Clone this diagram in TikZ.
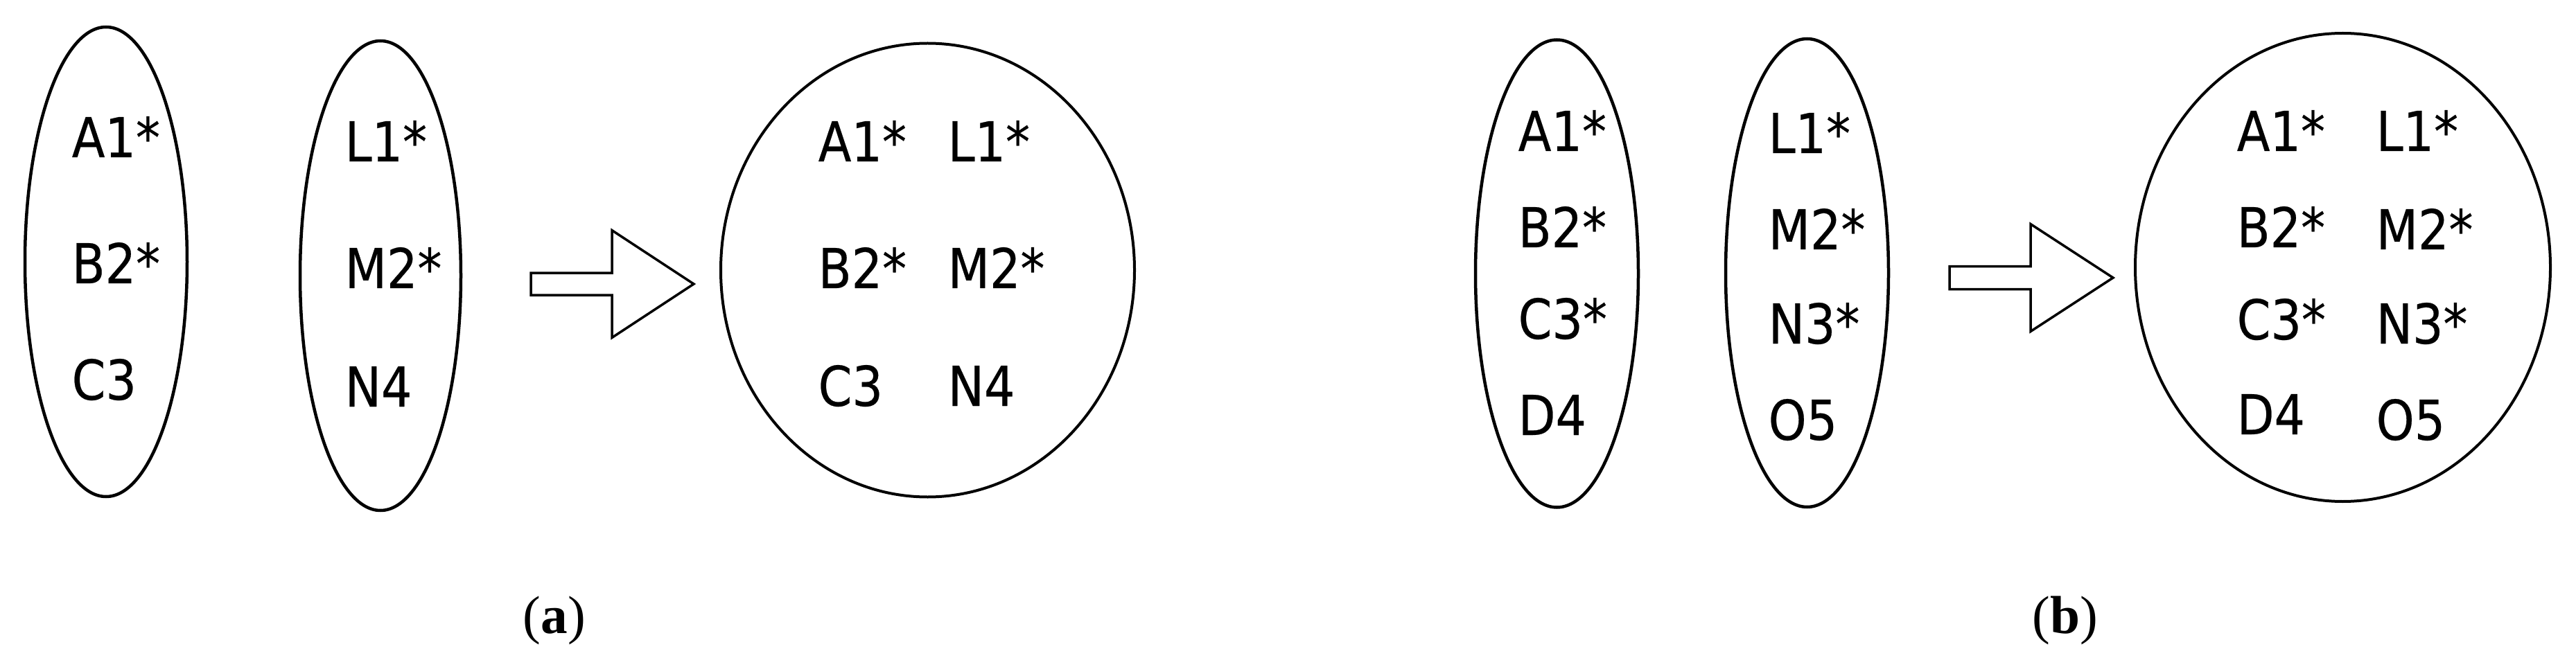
\documentclass[tikz,border=0pt]{standalone}
\usepackage{fontspec}
\newfontfamily\tahoma[FakeStretch=0.88,FakeBold=0.3]{DejaVu Sans}
\newfontfamily\capserif{Liberation Serif}
\usepackage{tikz}
\usetikzlibrary{calc,shapes.geometric}

\tikzset{
  grp/.style={draw, ellipse, line width=0.045cm, inner sep=0pt},
  pool/.style={draw, ellipse, line width=0.04cm, inner sep=0pt},
  item/.style={anchor=base west, inner sep=0pt, font=\tahoma\fontsize{22.6pt}{27pt}\selectfont},
  sub/.style={anchor=base, inner sep=0pt, font=\capserif\fontsize{22pt}{26pt}\selectfont},
  blockarrow/.style={draw, line width=0.035cm, line join=miter}
}

\begin{document}
\begin{tikzpicture}
\useasboundingbox (0,0) rectangle (37.17,9.49);

% (a)
\node[grp, minimum width=2.34cm, minimum height=6.78cm] (EA) at (1.53,5.71) {};
\node[grp, minimum width=2.32cm, minimum height=6.78cm] (LA) at (5.49,5.51) {};
\node[pool, minimum width=5.97cm, minimum height=6.55cm] (UA) at (13.385,5.59) {};
\foreach \t/\y [count=\i] in {A1*/7.22, B2*/5.40, C3/3.72}
  \node[item] (EA\i) at (1.03,\y) {\t};
\foreach \t/\y [count=\i] in {L1*/7.16, M2*/5.33, N4/3.62}
  \node[item] (LA\i) at (4.97,\y) {\t};
\foreach \t/\y [count=\i] in {A1*/7.16, B2*/5.33, C3/3.63}
  \node[item] (UA\i) at (11.80,\y) {\t};
\foreach \t/\y [count=\i] in {L1*/7.16, M2*/5.33, N4/3.63}
  \node[item] (UB\i) at (13.67,\y) {\t};
\coordinate (TA) at (10.01,5.39);
\draw[blockarrow] (TA) -- ++(-1.18,0.775) -- ++(0,-0.615) -- ++(-1.17,0)
  -- ++(0,-0.32) -- ++(1.17,0) -- ++(0,-0.615) -- cycle;
\node[sub] (CA) at (8.00,0.35) {(\textbf{a})};

% (b)
\node[grp, minimum width=2.35cm, minimum height=6.75cm] (EB) at (22.465,5.54) {};
\node[grp, minimum width=2.35cm, minimum height=6.76cm] (LB) at (26.075,5.55) {};
\node[pool, minimum width=5.99cm, minimum height=6.76cm] (UB) at (33.805,5.63) {};
\foreach \t/\y [count=\i] in {A1*/7.31, B2*/5.92, C3*/4.60, D4/3.21}
  \node[item] (EB\i) at (21.90,\y) {\t};
\foreach \t/\y [count=\i] in {L1*/7.28, M2*/5.89, N3*/4.53, O5/3.14}
  \node[item] (LB\i) at (25.51,\y) {\t};
\foreach \t/\y [count=\i] in {A1*/7.31, B2*/5.92, C3*/4.59, D4/3.22}
  \node[item] (UC\i) at (32.27,\y) {\t};
\foreach \t/\y [count=\i] in {L1*/7.31, M2*/5.89, N3*/4.53, O5/3.14}
  \node[item] (UD\i) at (34.28,\y) {\t};
\coordinate (TB) at (30.49,5.48);
\draw[blockarrow] (TB) -- ++(-1.19,0.775) -- ++(0,-0.61) -- ++(-1.17,0)
  -- ++(0,-0.33) -- ++(1.17,0) -- ++(0,-0.61) -- cycle;
\node[sub] (CB) at (29.80,0.35) {(\textbf{b})};
\end{tikzpicture}
\end{document}
